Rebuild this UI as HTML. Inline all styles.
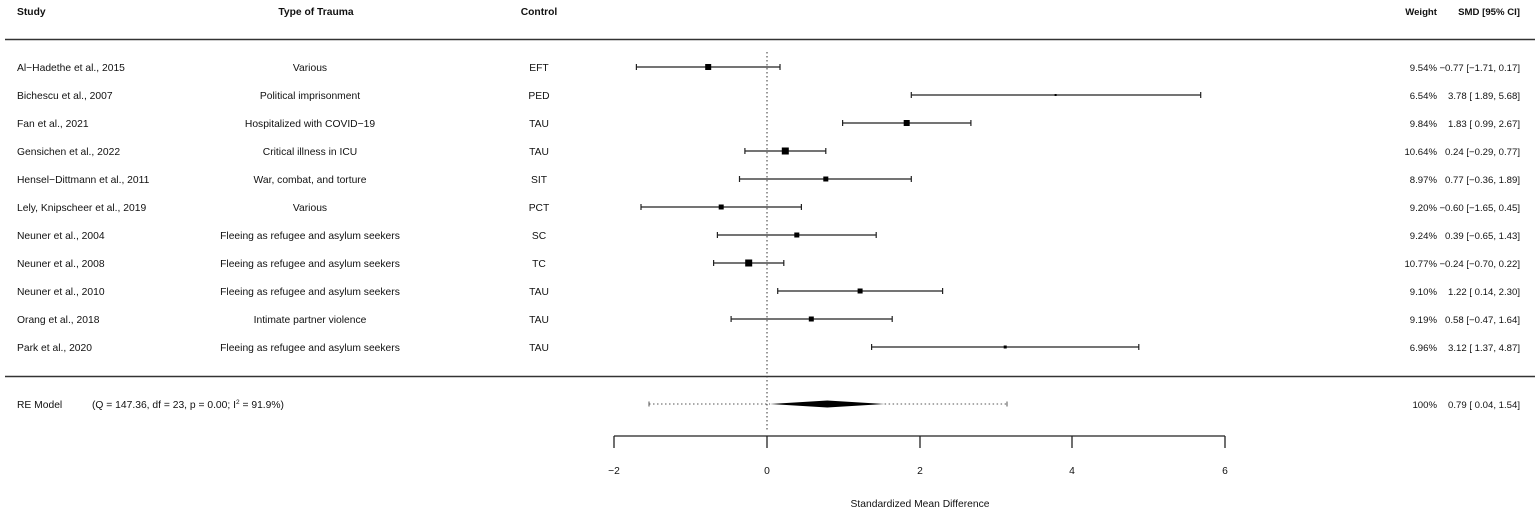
<!DOCTYPE html>
<html><head><meta charset="utf-8"><style>
html,body{margin:0;padding:0;background:#fff;}
svg{display:block;}
text{font-family:"Liberation Sans",Arial,sans-serif;font-size:10.3px;fill:#111;}
.b{font-weight:bold;}
.r{font-size:9.6px;}
</style></head><body>
<svg width="1535" height="512" viewBox="0 0 1535 512" xmlns="http://www.w3.org/2000/svg">
<g>
<text x="17" y="15" class="b">Study</text>
<text x="316" y="15" class="b" text-anchor="middle">Type of Trauma</text>
<text x="539" y="15" class="b" text-anchor="middle">Control</text>
<text x="1437" y="15" class="b r" text-anchor="end">Weight</text>
<text x="1520" y="15" class="b r" text-anchor="end">SMD [95% CI]</text>
</g>
<line x1="5" y1="39.5" x2="1535" y2="39.5" stroke="#333" stroke-width="1.5"/>
<line x1="5" y1="376.5" x2="1535" y2="376.5" stroke="#333" stroke-width="1.5"/>
<line x1="767" y1="52" x2="767" y2="432" stroke="#333" stroke-width="1" stroke-dasharray="1.5,2.5"/>
<g>
<text x="17" y="71">Al−Hadethe et al., 2015</text><text x="310" y="71" text-anchor="middle">Various</text><text x="539" y="71" text-anchor="middle">EFT</text>
<text x="17" y="99">Bichescu et al., 2007</text><text x="310" y="99" text-anchor="middle">Political imprisonment</text><text x="539" y="99" text-anchor="middle">PED</text>
<text x="17" y="127">Fan et al., 2021</text><text x="310" y="127" text-anchor="middle">Hospitalized with COVID−19</text><text x="539" y="127" text-anchor="middle">TAU</text>
<text x="17" y="155">Gensichen et al., 2022</text><text x="310" y="155" text-anchor="middle">Critical illness in ICU</text><text x="539" y="155" text-anchor="middle">TAU</text>
<text x="17" y="183">Hensel−Dittmann et al., 2011</text><text x="310" y="183" text-anchor="middle">War, combat, and torture</text><text x="539" y="183" text-anchor="middle">SIT</text>
<text x="17" y="211">Lely, Knipscheer et al., 2019</text><text x="310" y="211" text-anchor="middle">Various</text><text x="539" y="211" text-anchor="middle">PCT</text>
<text x="17" y="239">Neuner et al., 2004</text><text x="310" y="239" text-anchor="middle">Fleeing as refugee and asylum seekers</text><text x="539" y="239" text-anchor="middle">SC</text>
<text x="17" y="267">Neuner et al., 2008</text><text x="310" y="267" text-anchor="middle">Fleeing as refugee and asylum seekers</text><text x="539" y="267" text-anchor="middle">TC</text>
<text x="17" y="295">Neuner et al., 2010</text><text x="310" y="295" text-anchor="middle">Fleeing as refugee and asylum seekers</text><text x="539" y="295" text-anchor="middle">TAU</text>
<text x="17" y="323">Orang et al., 2018</text><text x="310" y="323" text-anchor="middle">Intimate partner violence</text><text x="539" y="323" text-anchor="middle">TAU</text>
<text x="17" y="351">Park et al., 2020</text><text x="310" y="351" text-anchor="middle">Fleeing as refugee and asylum seekers</text><text x="539" y="351" text-anchor="middle">TAU</text>
<text x="17" y="408">RE Model</text><text x="92" y="408">(Q = 147.36, df = 23, p = 0.00; I<tspan dy="-4" font-size="6.5">2</tspan><tspan dy="4"> = 91.9%)</tspan></text>
</g>
<g class="r">
<text class="r" x="1437" y="71" text-anchor="end">9.54%</text><text class="r" x="1520" y="71" text-anchor="end">−0.77 [−1.71, 0.17]</text>
<text class="r" x="1437" y="99" text-anchor="end">6.54%</text><text class="r" x="1520" y="99" text-anchor="end">3.78 [ 1.89, 5.68]</text>
<text class="r" x="1437" y="127" text-anchor="end">9.84%</text><text class="r" x="1520" y="127" text-anchor="end">1.83 [ 0.99, 2.67]</text>
<text class="r" x="1437" y="155" text-anchor="end">10.64%</text><text class="r" x="1520" y="155" text-anchor="end">0.24 [−0.29, 0.77]</text>
<text class="r" x="1437" y="183" text-anchor="end">8.97%</text><text class="r" x="1520" y="183" text-anchor="end">0.77 [−0.36, 1.89]</text>
<text class="r" x="1437" y="211" text-anchor="end">9.20%</text><text class="r" x="1520" y="211" text-anchor="end">−0.60 [−1.65, 0.45]</text>
<text class="r" x="1437" y="239" text-anchor="end">9.24%</text><text class="r" x="1520" y="239" text-anchor="end">0.39 [−0.65, 1.43]</text>
<text class="r" x="1437" y="267" text-anchor="end">10.77%</text><text class="r" x="1520" y="267" text-anchor="end">−0.24 [−0.70, 0.22]</text>
<text class="r" x="1437" y="295" text-anchor="end">9.10%</text><text class="r" x="1520" y="295" text-anchor="end">1.22 [ 0.14, 2.30]</text>
<text class="r" x="1437" y="323" text-anchor="end">9.19%</text><text class="r" x="1520" y="323" text-anchor="end">0.58 [−0.47, 1.64]</text>
<text class="r" x="1437" y="351" text-anchor="end">6.96%</text><text class="r" x="1520" y="351" text-anchor="end">3.12 [ 1.37, 4.87]</text>
<text class="r" x="1437" y="408" text-anchor="end">100%</text><text class="r" x="1520" y="408" text-anchor="end">0.79 [ 0.04, 1.54]</text>
</g>
<g stroke="#222" stroke-width="1.2">
<path d="M636.4 67H780M636.4 64v6M780 64v6"/>
<path d="M911.3 95H1200.7M911.3 92v6M1200.7 92v6"/>
<path d="M842.6 123H970.9M842.6 120v6M970.9 120v6"/>
<path d="M744.9 151H825.8M744.9 148v6M825.8 148v6"/>
<path d="M739.5 179H911.3M739.5 176v6M911.3 176v6"/>
<path d="M641 207H801.4M641 204v6M801.4 204v6"/>
<path d="M717.4 235H876.2M717.4 232v6M876.2 232v6"/>
<path d="M713.6 263H783.8M713.6 260v6M783.8 260v6"/>
<path d="M777.7 291H942.6M777.7 288v6M942.6 288v6"/>
<path d="M731.1 319H892.2M731.1 316v6M892.2 316v6"/>
<path d="M871.6 347H1138.8M871.6 344v6M1138.8 344v6"/>
</g>
<g fill="#000">
<rect x="705.2" y="64" width="6" height="6"/>
<rect x="1054.6" y="94" width="2" height="2"/>
<rect x="903.7" y="120" width="6" height="6"/>
<rect x="781.8" y="147.5" width="7" height="7"/>
<rect x="823.3" y="176.5" width="5" height="5"/>
<rect x="718.7" y="204.5" width="5" height="5"/>
<rect x="794.3" y="232.5" width="5" height="5"/>
<rect x="745.2" y="259.5" width="7" height="7"/>
<rect x="857.6" y="288.5" width="5" height="5"/>
<rect x="808.8" y="316.5" width="5" height="5"/>
<rect x="1003.7" y="345.5" width="3" height="3"/>
</g>
<g stroke="#555" stroke-width="1" stroke-dasharray="1.5,2.5">
<line x1="649" y1="404" x2="770" y2="404"/>
<line x1="884.6" y1="404" x2="1007" y2="404"/>
</g>
<path d="M649 401.5v5M1007 401.5v5" stroke="#555" stroke-width="1"/>
<polygon points="770,404 827.3,400.5 884.6,404 827.3,407.5" fill="#000"/>
<g stroke="#222" stroke-width="1.3" fill="none">
<path d="M614 436H1225M614 436v12M767 436v12M920 436v12M1072 436v12M1225 436v12"/>
</g>
<g>
<text x="614" y="474" text-anchor="middle">−2</text>
<text x="767" y="474" text-anchor="middle">0</text>
<text x="920" y="474" text-anchor="middle">2</text>
<text x="1072" y="474" text-anchor="middle">4</text>
<text x="1225" y="474" text-anchor="middle">6</text>
<text x="920" y="507" text-anchor="middle">Standardized Mean Difference</text>
</g>
</svg>
</body></html>
